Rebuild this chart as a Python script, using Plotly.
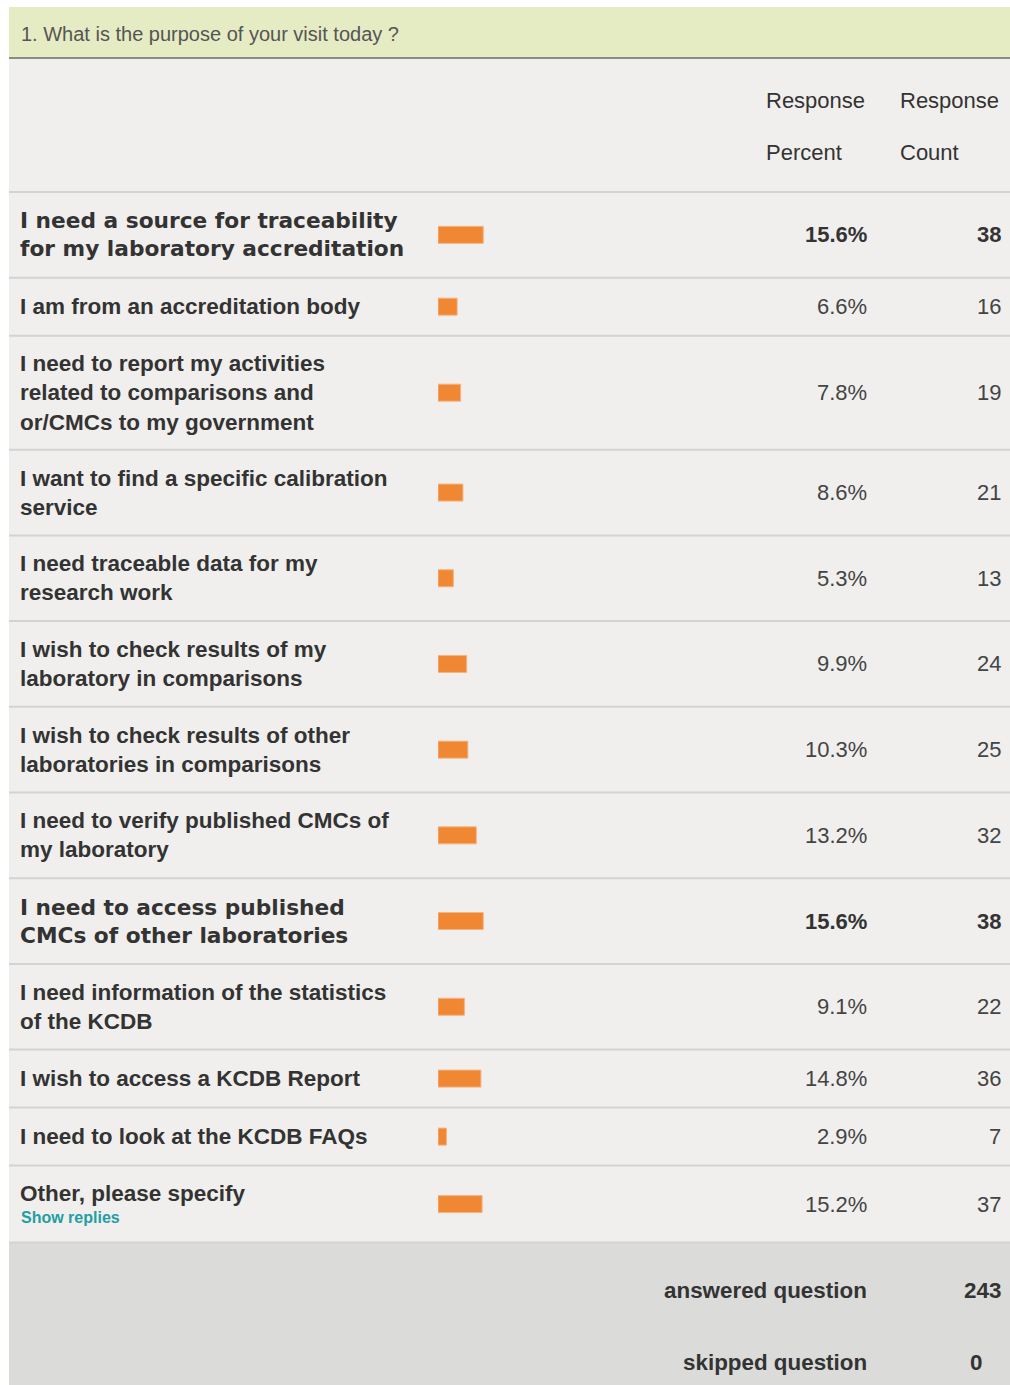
import plotly.graph_objects as go

# ---------------- data ----------------
title_text = "1. What is the purpose of your visit today ?"
header_percent = ["Response", "Percent"]
header_count = ["Response", "Count"]

labels = [
    "I need a source for traceability<br>for my laboratory accreditation",
    "I am from an accreditation body",
    "I need to report my activities<br>related to comparisons and<br>or/CMCs to my government",
    "I want to find a specific calibration<br>service",
    "I need traceable data for my<br>research work",
    "I wish to check results of my<br>laboratory in comparisons",
    "I wish to check results of other<br>laboratories in comparisons",
    "I need to verify published CMCs of<br>my laboratory",
    "I need to access published<br>CMCs of other laboratories",
    "I need information of the statistics<br>of the KCDB",
    "I wish to access a KCDB Report",
    "I need to look at the KCDB FAQs",
    "Other, please specify",
]
percents = [15.6, 6.6, 7.8, 8.6, 5.3, 9.9, 10.3, 13.2, 15.6, 9.1, 14.8, 2.9, 15.2]
counts = [38, 16, 19, 21, 13, 24, 25, 32, 38, 22, 36, 7, 37]
has_replies = [False] * 12 + [True]
replies_text = "Show replies"
footer_labels = ["answered question", "skipped question"]
footer_values = [243, 0]

# ---------------- layout constants ----------------
W, H = 1010, 1385
LEFT = 9
TITLE_TOP, TITLE_BOTTOM = 7, 58
COLHEAD_BOTTOM = 192
ROW_H = {1: 58, 2: 85.7, 3: 114}
REPLIES_ROW_H = 77
BAR_X0 = 438          # pixel where 0 % sits
PX_PER_PCT = 2.9
PCT_RIGHT = 869
CNT_RIGHT = 1003
LABEL_X = 20

TXT = "#333333"
VAL = "#444444"
ROW_BG = "#f0efed"
SEP = "#d3d3d3"
ORANGE = "#ef8733"

def px(x):
    return x / W

# row geometry
row_tops, row_bottoms, centers = [], [], []
y = COLHEAD_BOTTOM
for lab, rep in zip(labels, has_replies):
    n = lab.count("<br>") + 1
    h = REPLIES_ROW_H if rep else ROW_H[n]
    row_tops.append(y)
    centers.append(y + h / 2)
    y += h
    row_bottoms.append(y)
rows_end = y

max_count = max(counts)
highlight = [c == max_count for c in counts]

fig = go.Figure()

fig.add_trace(go.Bar(
    x=percents,
    y=centers,
    orientation="h",
    width=17,
    marker=dict(color=ORANGE, line=dict(color="#f6b384", width=1)),
    hoverinfo="skip",
    showlegend=False,
))

shapes = []
# title band
shapes.append(dict(type="rect", xref="paper", yref="y", x0=px(LEFT), x1=1, y0=TITLE_TOP, y1=TITLE_BOTTOM,
                   fillcolor="#e5ebc2", line=dict(width=0), layer="below"))
# body background
shapes.append(dict(type="rect", xref="paper", yref="y", x0=px(LEFT), x1=1, y0=TITLE_BOTTOM, y1=rows_end,
                   fillcolor=ROW_BG, line=dict(width=0), layer="below"))
# footer
shapes.append(dict(type="rect", xref="paper", yref="y", x0=px(LEFT), x1=1, y0=rows_end, y1=H,
                   fillcolor="#dbdbda", line=dict(width=0), layer="below"))
# dark line under title
shapes.append(dict(type="line", xref="paper", yref="y", x0=px(LEFT), x1=1, y0=TITLE_BOTTOM, y1=TITLE_BOTTOM,
                   line=dict(color="#6a6a6a", width=1.5), layer="below"))
# separators
for yy in [COLHEAD_BOTTOM] + row_bottoms:
    shapes.append(dict(type="line", xref="paper", yref="y", x0=px(LEFT), x1=1, y0=yy, y1=yy,
                       line=dict(color=SEP, width=2), layer="below"))

ann = []
reg = "Liberation Sans, Arial, sans-serif"
ann.append(dict(x=px(LABEL_X - 1), y=(TITLE_TOP + TITLE_BOTTOM) / 2 + 1, xref="paper", yref="y",
                text=title_text, showarrow=False, xanchor="left", yanchor="middle",
                font=dict(family=reg, size=20, color="#555555")))
# column headers
for xx, txts in [(764, header_percent), (898, header_count)]:
    for yy, t in zip([100, 152], txts):
        ann.append(dict(x=px(xx), y=yy, xref="paper", yref="y", text=t, showarrow=False,
                        xanchor="left", yanchor="middle",
                        font=dict(family=reg, size=22, color=TXT)))

for lab, p, c, cy, hl, rep in zip(labels, percents, counts, centers, highlight, has_replies):
    lab_font = dict(family="DejaVu Sans, sans-serif", size=21.7, color=TXT, weight="bold") if hl \
        else dict(family=reg, size=22.5, color=TXT, weight="bold")
    ly = cy - 11 if rep else cy
    ann.append(dict(x=px(LABEL_X - 2), y=ly, xref="paper", yref="y", text=lab, showarrow=False,
                    xanchor="left", yanchor="middle", align="left", font=lab_font))
    if rep:
        ann.append(dict(x=px(LABEL_X - 1), y=cy + 13, xref="paper", yref="y", text=replies_text,
                        showarrow=False, xanchor="left", yanchor="middle",
                        font=dict(family=reg, size=16, color="#1f9ea3", weight="bold")))
    vfont = dict(family=reg, size=22, color=TXT if hl else VAL, weight="bold" if hl else "normal")
    ann.append(dict(x=px(PCT_RIGHT), y=cy, xref="paper", yref="y", text=f"{p:.1f}%", showarrow=False,
                    xanchor="right", yanchor="middle", font=vfont))
    ann.append(dict(x=px(CNT_RIGHT), y=cy, xref="paper", yref="y", text=str(c), showarrow=False,
                    xanchor="right", yanchor="middle", font=vfont))

for (lbl, val, yy, vx) in zip(footer_labels, footer_values, [1290, 1362], [CNT_RIGHT, 984]):
    ann.append(dict(x=px(PCT_RIGHT), y=yy, xref="paper", yref="y", text=lbl, showarrow=False,
                    xanchor="right", yanchor="middle",
                    font=dict(family=reg, size=22.4, color=TXT, weight="bold")))
    ann.append(dict(x=px(vx), y=yy, xref="paper", yref="y", text=str(val), showarrow=False,
                    xanchor="right", yanchor="middle",
                    font=dict(family=reg, size=22.4, color=TXT, weight="bold")))

fig.update_layout(
    width=W, height=H,
    margin=dict(l=0, r=0, t=0, b=0),
    paper_bgcolor="white", plot_bgcolor="white",
    xaxis=dict(range=[0, 100], domain=[px(BAR_X0), px(BAR_X0 + 100 * PX_PER_PCT)],
               visible=False, fixedrange=True),
    yaxis=dict(range=[H, 0], domain=[0, 1], visible=False, fixedrange=True),
    shapes=shapes,
    annotations=ann,
    showlegend=False,
)

fig.write_html(
    "out.html",
    config={"displayModeBar": False},
    post_script="document.body.style.margin='0';document.body.style.overflow='hidden';",
)
